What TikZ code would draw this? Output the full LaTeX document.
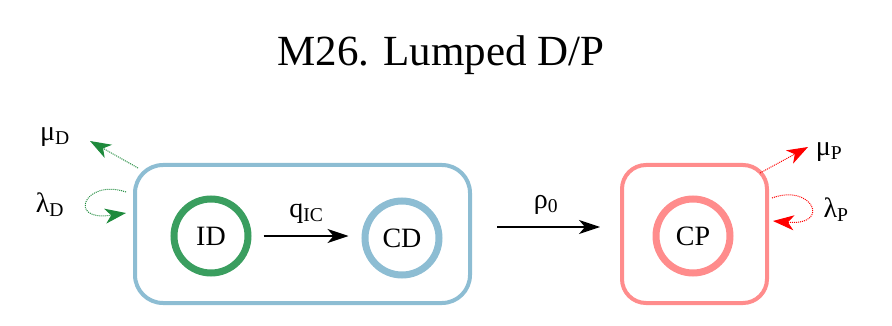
\documentclass[tikz,border=0pt]{standalone}
\usepackage{fontspec}
\setmainfont{Liberation Serif}
\usetikzlibrary{arrows.meta}
\definecolor{dgreen}{HTML}{3A9E5F}
\definecolor{dblue}{HTML}{8DBDD3}
\definecolor{ppink}{HTML}{FF8C8C}
\definecolor{agreen}{HTML}{1E8A3C}
\tikzset{
  comp/.style={draw=#1, line width=4pt, rounded corners=28pt},
  ring/.style={draw=#1, circle, line width=7pt, minimum size=74pt, inner sep=0pt,
    font=\fontsize{28}{30}\selectfont},
  lbl/.style={font=\fontsize{28}{30}\selectfont, inner sep=0pt},
  flow/.style={-{Stealth[length=21pt,width=14pt,inset=6pt]}, line width=1.2pt},
  leak/.style={-{Stealth[length=21pt,width=15pt,inset=6pt]}, line width=1pt, densely dotted}
}
\begin{document}
\begin{tikzpicture}[x=1pt,y=-1pt]
        \useasboundingbox (0,0) rectangle (892,326);
        % title
        \node (title) at (441,55) {\fontsize{43}{50}\selectfont M26. Lumped D/P};
        % compartments
        \node[comp=dblue, minimum width=335pt, minimum height=138pt] (boxD) at (302.5,234) {};
        \node[comp=ppink, rounded corners=24pt, minimum width=145pt, minimum height=138pt] (boxP) at (694.5,234) {};
        \node[ring=dgreen] (ID) at (211,236) {ID};
        \node[ring=dblue] (CD) at (402,238) {CD};
        \node[ring=ppink] (CP) at (693,236) {CP};
        % transitions
        \draw[flow, shorten <=12pt, shorten >=13pt] (ID.east) -- node[lbl, above=12pt] {q\textsubscript{IC}} (ID.east -| CD.west);
        \draw[flow, shorten <=25pt, shorten >=20pt] ([yshift=7pt]boxD.east) -- node[lbl, above=12pt] {ρ\textsubscript{0}} ([yshift=7pt]boxP.west);
        % loss and birth, D
        \coordinate (muDtip) at (90,141);
        \coordinate (lamDin) at (126,192);
        \coordinate (lamDout) at (126,213);
        \draw[leak, agreen] ([xshift=5pt,yshift=-5pt]boxD.north west) -- (muDtip);
        \draw[leak, agreen] (lamDin) .. controls (85,178) and (66,222) .. (lamDout);
        \node[lbl] (muD) at (55,137) {μ\textsubscript{D}};
        \node[lbl] (lamD) at (50,205) {λ\textsubscript{D}};
        % loss and birth, P
        \coordinate (muPtip) at (808,147);
        \coordinate (lamPin) at (772,198);
        \coordinate (lamPout) at (773,221);
        \draw[leak, red] ([xshift=-9pt,yshift=-10pt]boxP.north east) -- (muPtip);
        \draw[leak, red] (lamPin) .. controls (812,183) and (832,226) .. (lamPout);
        \node[lbl] (muP) at (829,152) {μ\textsubscript{P}};
        \node[lbl] (lamP) at (836,210) {λ\textsubscript{P}};
      \end{tikzpicture}
\end{document}
